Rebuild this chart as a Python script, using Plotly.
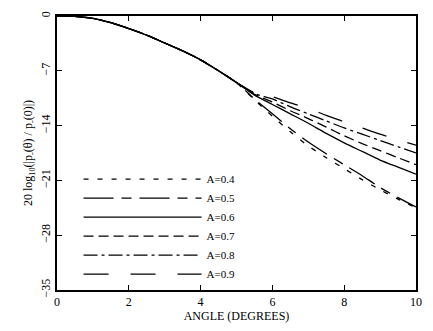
import plotly.graph_objects as go

angle = [0, 0.5, 1, 1.5, 2, 2.5, 3, 3.5, 4, 4.5, 5, 5.5, 6, 6.5, 7, 7.5, 8, 8.5, 9, 9.5, 10]
common = [0, -0.05, -0.3, -0.85, -1.6, -2.45, -3.45, -4.45, -5.6, -7.0, -8.5]

tails = {
    "A=0.4": [-10.7, -12.8, -14.8, -16.6, -18.1, -19.5, -20.9, -22.2, -23.4, -24.5],
    "A=0.5": [-10.6, -12.5, -14.4, -16.1, -17.6, -19.0, -20.4, -21.9, -23.2, -24.4],
    "A=0.6": [-10.1, -11.3, -12.5, -13.7, -15.0, -16.2, -17.3, -18.4, -19.3, -20.2],
    "A=0.7": [-10.0, -11.0, -12.1, -13.1, -14.2, -15.3, -16.3, -17.2, -18.1, -19.0],
    "A=0.8": [-9.9, -10.6, -11.6, -12.5, -13.4, -14.3, -15.1, -15.9, -16.7, -17.5],
    "A=0.9": [-9.8, -10.3, -11.1, -11.8, -12.7, -13.5, -14.3, -15.1, -15.8, -16.5],
}
labels = list(tails.keys())
dashes = ["5px,9px", "30px,8px,10px,8px", "solid", "10px,5px", "14px,4px,3px,4px", "25px,22px"]

x_ticks = [0, 2, 4, 6, 8, 10]
y_ticks = [0, -7, -14, -21, -28, -35]

fig = go.Figure()
for lab, dash in zip(labels, dashes):
    fig.add_trace(go.Scatter(
        x=angle, y=common + tails[lab], mode="lines", name=lab,
        line=dict(color="black", width=1.3, dash=dash, shape="spline", smoothing=0.6),
    ))

font = dict(family="Liberation Serif", size=12, color="black")
axis_common = dict(
    showline=True, linecolor="black", linewidth=1.5, mirror="ticks",
    ticks="inside", ticklen=5, tickcolor="black", showgrid=False, zeroline=False,
    tickfont=font,
)
fig.update_xaxes(range=[0, 10], tickvals=x_ticks, title=dict(text="ANGLE (DEGREES)", font=font, standoff=2),
                 **axis_common)
fig.update_yaxes(range=[-35, 0], tickvals=y_ticks, tickangle=-90,
                 title=dict(text="20 log<sub>10</sub>(|p<sub>-</sub>(θ) / p<sub>-</sub>(0)|)", font=font, standoff=4),
                 **axis_common)
fig.update_layout(
    width=433, height=331, margin=dict(l=57, r=12, t=11, b=38),
    paper_bgcolor="white", plot_bgcolor="white", font=font,
    legend=dict(x=0.06, y=0.005, xanchor="left", yanchor="bottom", bgcolor="rgba(0,0,0,0)",
                itemwidth=118, font=dict(family="Liberation Serif", size=11, color="black"),
                tracegroupgap=0),
)
fig.write_html("out.html")
